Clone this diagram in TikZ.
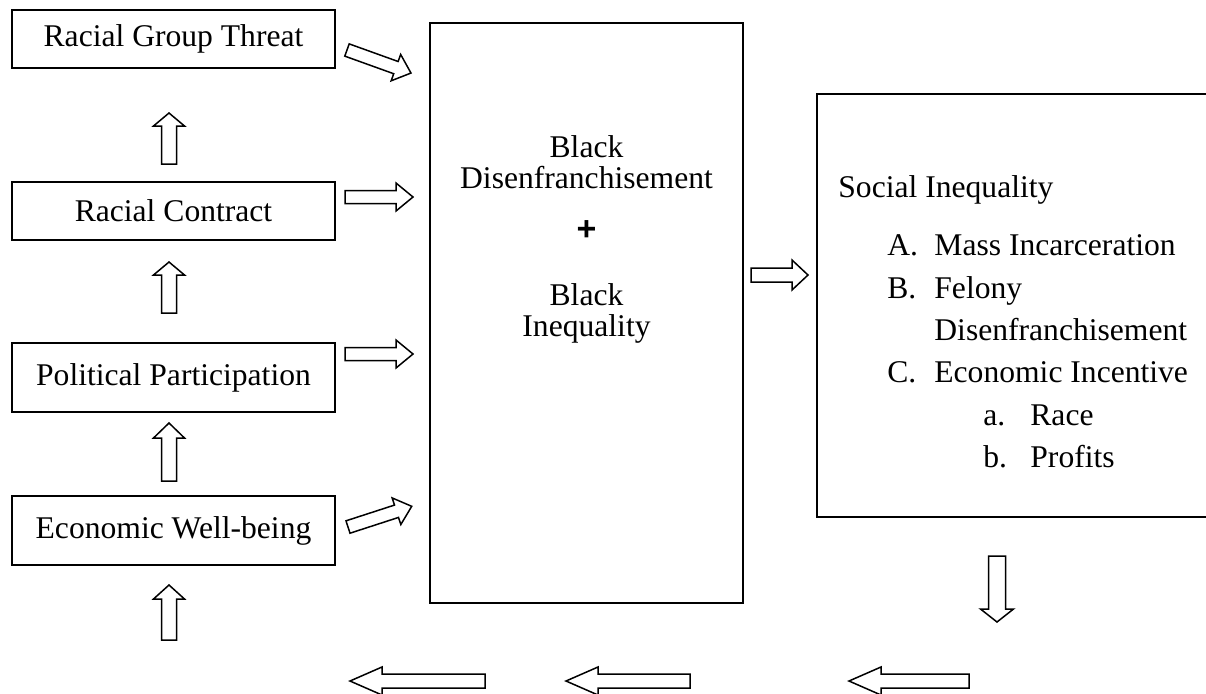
\documentclass[tikz,border=0pt]{standalone}
\usepackage{fontspec}
\setmainfont{Liberation Serif}
\newfontfamily\plusfont{Liberation Sans}
% block arrow: tail x, tail y, angle, length, shaft half-width, head half-width, head length
\newcommand\barrow[7]{%
  \draw[barrow, shift={(#1,#2)}, rotate=#3]
    (0,-#5) -- ({#4-#7},-#5) -- ({#4-#7},-#6) -- (#4,0) -- ({#4-#7},#6) -- ({#4-#7},#5) -- (0,#5) -- cycle;}
\begin{document}
\begin{tikzpicture}[x=0.5pt,y=-0.5pt,
  box/.style={draw, line width=1pt, inner sep=0pt},
  barrow/.style={draw, line width=0.75pt, fill=white, line join=miter},
  lbl/.style={font=\fontsize{15.8}{19}\selectfont, inner sep=0pt},
  lbox/.style={box, lbl, minimum width=161.5pt}]
\useasboundingbox (0,0) rectangle (1206,693);
\fill[white] (0,0) rectangle (1206,693);

% left column boxes
\node[lbox, minimum height=29pt]   (threat)   at (173.5,39)    {Racial Group Threat};
\node[lbox, minimum height=29pt]   (contract) at (173.5,211)   {Racial Contract};
\node[lbox, minimum height=34.5pt] (polit)    at (173.5,377.5) {Political Participation};
\node[lbox, minimum height=34.5pt] (econ)     at (173.5,530.5) {Economic Well-being};

% central box
\node[box, minimum width=156.5pt, minimum height=290pt] (big) at (586.5,313) {};
\node[lbl, anchor=base] (b1) at (586.5,157) {Black};
\node[lbl, anchor=base] (b2) at (586.5,188) {Disenfranchisement};
\node[lbl, anchor=center, font=\plusfont\bfseries\fontsize{17}{20}\selectfont] (plus) at (586.5,231) {+};
\node[lbl, anchor=base] (b3) at (586.5,305) {Black};
\node[lbl, anchor=base] (b4) at (586.5,336) {Inequality};

% right box (cut by the page edge)
\begin{scope}
  \clip (0,0) rectangle (1206,693);
  \draw[line width=1pt] (817,94) coordinate (soc) rectangle (1240,517);
\end{scope}
\node[lbl, anchor=base west] (s0) at (838,197) {Social Inequality};
\node[lbl, anchor=base west] (sA) at (887,255) {A.};
\node[lbl, anchor=base west] (tA) at (934,255) {Mass Incarceration};
\node[lbl, anchor=base west] (sB) at (887,298) {B.};
\node[lbl, anchor=base west] (tB) at (934,298) {Felony};
\node[lbl, anchor=base west] (tB2) at (934,340) {Disenfranchisement};
\node[lbl, anchor=base west] (sC) at (887,382) {C.};
\node[lbl, anchor=base west] (tC) at (934,382) {Economic Incentive};
\node[lbl, anchor=base west] (sa) at (983,425) {a.};
\node[lbl, anchor=base west] (ta) at (1030,425) {Race};
\node[lbl, anchor=base west] (sb) at (983,467) {b.};
\node[lbl, anchor=base west] (tb) at (1030,467) {Profits};

% arrows into the central box
\barrow{347}{50}{-19.8}{68}{6.5}{14}{16}
\barrow{345}{197}{0}{68}{6.5}{14}{17}
\barrow{345}{354}{0}{68}{6.5}{14}{17}
\barrow{348}{527}{18}{67}{6.5}{14}{16}

% upward arrows in the left column
\barrow{169}{164}{90}{51}{7.5}{15.5}{13}
\barrow{169}{313}{90}{51}{7.5}{15.5}{13}
\barrow{169}{481}{90}{58}{7.5}{15.5}{15}
\barrow{169}{640}{90}{55}{7.5}{15.5}{14}

% central box to right box
\barrow{751}{275}{0}{57}{7}{15}{16}

% down arrow below right box
\barrow{997}{556}{-90}{66}{8.5}{16.5}{13}

% bottom leftward arrows
\barrow{969}{681}{180}{120}{7}{14}{32}
\barrow{690}{681}{180}{124}{7}{14}{32}
\barrow{485}{681}{180}{135}{7}{14}{32}
\end{tikzpicture}
\end{document}
